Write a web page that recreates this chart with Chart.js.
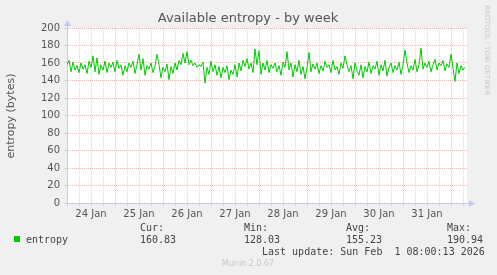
<!DOCTYPE html>
<html lang="en">
<head>
  <meta charset="UTF-8">
  <title>Available entropy - by week</title>
  <script src="https://cdn.jsdelivr.net/npm/chart.js"></script>
  <style>
    body { margin: 0; background: #f0f0f0; }
    canvas { display: block; }
  </style>
</head>
<body>
  <canvas id="graph" width="497" height="275"></canvas>
  <script>
    // one sample per hour, starting 24 Jan 00:00
    const days = ['24 Jan', '25 Jan', '26 Jan', '27 Jan', '28 Jan', '29 Jan', '30 Jan', '31 Jan'];
    const entropy = [
      158,163,150,161,152,157,149,160,153,158,148,
      162,155,168,150,166,147,
      158,152,162,149,160,155,161,150,
      163,154,158,146,157,150,160,
      155,162,148,158,170,152,
      165,146,157,153,160,149,156,
      170,158,143,155,
      150,159,141,156,148,160,152,
      163,158,171,160,173,158,163,
      157,160,155,158,156,161,
      137,155,147,162,
      150,158,146,156,143,155,149,
      157,141,152,147,158,144,160,151,
      163,156,165,153,160,149,
      176,158,174,147,160,
      152,163,149,158,154,160,
      150,157,146,161,155,173,
      152,160,144,158,150,163,147,156,142,155,
      172,150,159,
      153,160,148,157,151,162,155,158,149,163,152,156,147,160,154,168,
      158,150,157,142,160,151,146,158,143,156,150,161,
      148,157,153,162,146,158,151,163,145,155,160,149,157,152,161,147,158,175,
      160,149,157,152,164,150,158,
      177,153,160,155,162,150,
      158,164,152,160,157,163,151,159,155,
      170,154,139,160,148,157,152,155
    ];
    const legendLabels = ['Cur:', 'Min:', 'Avg:', 'Max:'];
    const legendValues = ['160.83', '128.03', '155.23', '190.94'];

    const majorGrid = 'rgba(240,140,140,0.6)';
    const minorGrid = 'rgba(200,200,200,0.75)';
    const axisBlue = '#c4c8f4';

    const munin = {
      id: 'munin',
      beforeDraw(chart) {
        const { ctx, chartArea: a } = chart;
        ctx.save();
        ctx.fillStyle = '#f0f0f0';
        ctx.fillRect(0, 0, chart.width, chart.height);
        ctx.fillStyle = '#fff';
        ctx.fillRect(a.left, a.top, a.right - a.left, a.bottom - a.top);
        ctx.restore();
      },
      afterDraw(chart) {
        const { ctx, chartArea: a } = chart;
        ctx.save();
        // axis arrows
        ctx.fillStyle = axisBlue;
        ctx.beginPath();
        ctx.moveTo(a.left - 3, a.top - 2);
        ctx.lineTo(a.left + 0.5, a.top - 8);
        ctx.lineTo(a.left + 4, a.top - 2);
        ctx.fill();
        ctx.beginPath();
        ctx.moveTo(a.right + 2, a.bottom - 3);
        ctx.lineTo(a.right + 8, a.bottom + 0.5);
        ctx.lineTo(a.right + 2, a.bottom + 4);
        ctx.fill();
        ctx.strokeStyle = axisBlue;
        ctx.beginPath();
        ctx.moveTo(a.left + 0.5, a.top - 2);
        ctx.lineTo(a.left + 0.5, a.top);
        ctx.moveTo(a.right, a.bottom + 0.5);
        ctx.lineTo(a.right + 2, a.bottom + 0.5);
        ctx.stroke();

        // title
        ctx.fillStyle = '#555';
        ctx.font = '13px "DejaVu Sans"';
        ctx.textAlign = 'center';
        ctx.textBaseline = 'middle';
        ctx.fillText('Available entropy - by week', 248, 19);

        // vertical label
        ctx.save();
        ctx.translate(11, 116);
        ctx.rotate(-Math.PI / 2);
        ctx.font = '11px "DejaVu Sans"';
        ctx.fillText('entropy (bytes)', 0, 0);
        ctx.restore();

        // rrdtool watermark
        ctx.save();
        ctx.translate(487, 5);
        ctx.rotate(Math.PI / 2);
        ctx.fillStyle = '#c8c8c8';
        ctx.font = '7px "DejaVu Sans"';
        ctx.textAlign = 'left';
        ctx.fillText('RRDTOOL / TOBI OETIKER', 0, 0);
        ctx.restore();

        // legend
        ctx.fillStyle = '#00cc00';
        ctx.fillRect(14, 236, 6, 6);
        ctx.fillStyle = '#444';
        ctx.font = '10px "DejaVu Sans Mono"';
        ctx.textAlign = 'left';
        ctx.fillText('entropy', 26, 240);
        const cols = [140, 244, 346, 447];
        cols.forEach((x, i) => {
          ctx.fillText(legendLabels[i], x, 228);
          ctx.fillText(legendValues[i], x, 240);
        });
        ctx.fillText('Last update: Sun Feb  1 08:00:13 2026', 262, 252);

        ctx.fillStyle = '#c8c8c8';
        ctx.font = '8px "DejaVu Sans"';
        ctx.textAlign = 'center';
        ctx.fillText('Munin 2.0.67', 248, 264);
        ctx.restore();
      }
    };

    new Chart(document.getElementById('graph'), {
      type: 'line',
      data: {
        datasets: [{
          label: 'entropy',
          data: entropy.map((v, i) => ({ x: i, y: v })),
          borderColor: '#00cc00',
          borderWidth: 1,
          pointRadius: 0,
          tension: 0
        }]
      },
      options: {
        responsive: false,
        animation: false,
        layout: { padding: { left: 0, top: 28, right: 30, bottom: 0 } },
        plugins: { legend: { display: false }, tooltip: { enabled: false } },
        scales: {
          x: {
            type: 'linear',
            min: 0,
            max: 200,
            afterFit: s => { s.height = 72; },
            afterBuildTicks: s => {
              const t = [];
              for (let h = 0; h < 200; h += 6) t.push({ value: h });
              s.ticks = t;
            },
            grid: {
              color: c => (c.tick && c.tick.value % 24 === 0 ? majorGrid : minorGrid),
              tickColor: minorGrid,
              tickLength: 3
            },
            border: { color: axisBlue, dash: [1, 1] },
            ticks: {
              autoSkip: false,
              maxRotation: 0,
              padding: 2,
              color: '#555',
              font: { family: 'DejaVu Sans', size: 10 },
              callback: v => (v % 24 === 12 ? days[(v - 12) / 24] : '')
            }
          },
          y: {
            min: 0,
            max: 200,
            afterFit: s => { s.width = 67; },
            afterBuildTicks: s => {
              const t = [];
              for (let v = 0; v <= 200; v += 10) t.push({ value: v });
              s.ticks = t;
            },
            grid: {
              color: c => (c.tick && c.tick.value % 20 === 0 ? majorGrid : minorGrid),
              tickColor: minorGrid,
              tickLength: 3
            },
            border: { color: axisBlue, dash: [1, 1] },
            ticks: {
              padding: 4,
              color: '#555',
              font: { family: 'DejaVu Sans', size: 10 },
              callback: v => (v % 20 === 0 ? v : '')
            }
          }
        }
      },
      plugins: [munin]
    });
  </script>
</body>
</html>
